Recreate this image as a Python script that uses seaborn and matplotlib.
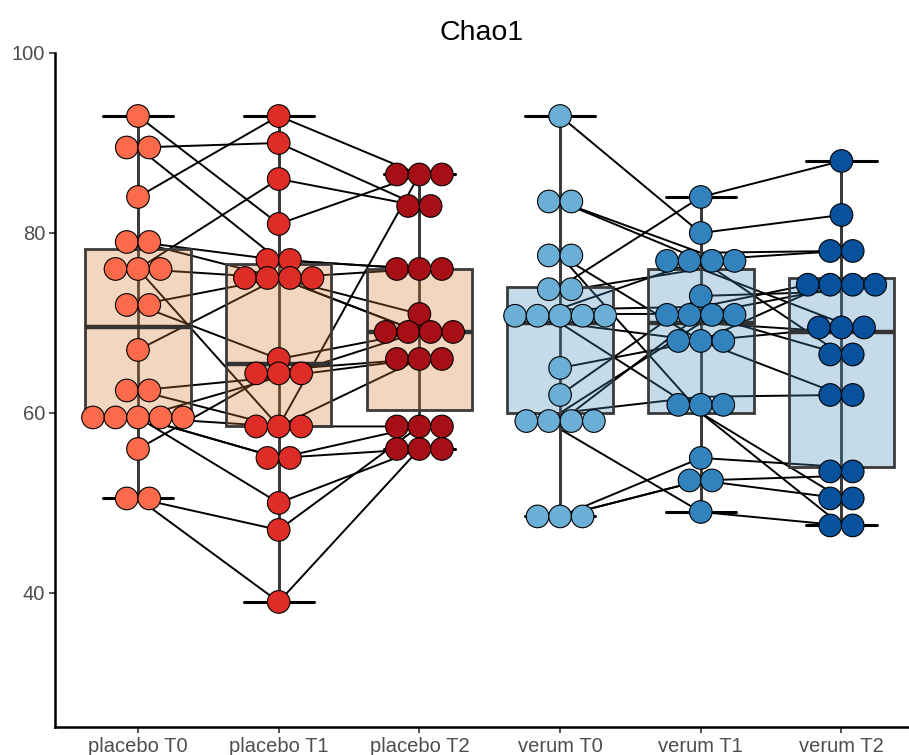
#!/usr/bin/env python3
import numpy as np
import pandas as pd
import seaborn as sns
import matplotlib.pyplot as plt
from matplotlib.colors import to_rgba

groups = ['placebo T0', 'placebo T1', 'placebo T2', 'verum T0', 'verum T1', 'verum T2']

# one value per subject, same subject order across the three timepoints
placebo_t0 = [93, 89.5, 89.5, 84, 79, 79, 76, 76, 76, 72, 72, 67, 62.5, 62.5,
              59.5, 59.5, 59.5, 59.5, 59.5, 56, 50.5, 50.5]
placebo_t1 = [81, 90, 77, 93, 75, 77, 86, 75, 58.5, 75, 66, 75, 64, 58.5,
              64, 58.5, 55, 55, 50, 64.8, 47, 39]
placebo_t2 = [86.5, 83, 76, 86.5, 71, 76, 83, 76, 86.5, 69, 69, 69, 69, 66,
              66, 58.5, 58.5, 56, 56, 66, 58.5, 56]

verum_t0 = [93, 83.5, 83.5, 77.5, 77.5, 74, 73.5, 71, 70, 71.6, 71.5, 70, 65, 62,
            60, 60, 59, 58.2, 48.5, 48.5, 48.5]
verum_t1 = [80, 77.8, 77, 68, 60, 84, 76, 71, 68, 77, 71.8, 60, 68, 73,
            61.8, 70, 71, 49, 55, 52.5, 52.5]
verum_t2 = [82, 78, 78, 75, 50.5, 88, 70, 74, 69.5, 66.5, 75, 47.5, 62, 73.5,
            62, 69, 66.5, 47.5, 54, 53, 50.5]

dot_colors = ['#FB6A4A', '#DE2D26', '#A50F15', '#6BAED6', '#3182BD', '#08519C']
box_colors = ['#DA7A2D', '#DA7A2D', '#DA7A2D', '#418AB9', '#418AB9', '#418AB9']


def dot_layout(values, bw=1.9, step=0.16):
    # dot-density style stacking: close values share a row, centred on the category
    values = np.asarray(values, dtype=float)
    order = np.argsort(values, kind='stable')
    xs = np.zeros(len(values))
    ys = np.zeros(len(values))
    i = 0
    while i < len(order):
        start = values[order[i]]
        j = i
        while j < len(order) and values[order[j]] - start < bw:
            j += 1
        members = order[i:j]
        center = (values[members].min() + values[members].max()) / 2
        n = len(members)
        for k, m in enumerate(members):
            xs[m] = (k - (n - 1) / 2) * step
            ys[m] = center
        i = j
    return xs, ys


rows = []
series = [('p', placebo_t0, placebo_t1, placebo_t2, 0), ('v', verum_t0, verum_t1, verum_t2, 3)]
for prefix, t0, t1, t2, base in series:
    for t, vals in enumerate([t0, t1, t2]):
        dx, dy = dot_layout(vals)
        for s, v in enumerate(vals):
            rows.append(dict(subject=f'{prefix}{s}', label=groups[base + t], pos=base + t,
                             value=v, xdot=base + t + dx[s], ydot=dy[s]))
df = pd.DataFrame(rows)

sns.set_theme(style='ticks')
plt.rcParams['font.family'] = ['Liberation Sans', 'DejaVu Sans']

fig = plt.figure(figsize=(9.09, 7.55), dpi=100)
ax = fig.add_axes([55 / 909, 28 / 755, 854 / 909, 674 / 755])

# subject trajectories, underneath the boxes
for _, sub in df.groupby('subject'):
    sub = sub.sort_values('pos')
    ax.plot(sub['pos'], sub['value'], color='black', lw=1.4, zorder=0.5)

# full errorbar line behind each box
for i, g in enumerate(groups):
    v = df.loc[df['label'] == g, 'value'].to_numpy()
    q1, q3 = np.percentile(v, [25, 75])
    iqr = q3 - q1
    lo = v[v >= q1 - 1.5 * iqr].min()
    hi = v[v <= q3 + 1.5 * iqr].max()
    ax.vlines(i, lo, hi, color='#333333', lw=2, zorder=0.8)

sns.boxplot(data=df, x='label', y='value', order=groups, hue='label', hue_order=groups,
            palette=dict(zip(groups, box_colors)), saturation=1, width=0.75,
            showfliers=False, linewidth=2, linecolor='#3a3a3a', legend=False,
            medianprops=dict(color='#333333', linewidth=3.2),
            capprops=dict(color='black', linewidth=2.2),
            capwidths=0.5, ax=ax)

for p in ax.patches:
    fc = p.get_facecolor()
    p.set_facecolor(to_rgba(fc[:3], 0.3))

sns.scatterplot(data=df, x='xdot', y='ydot', hue='label', hue_order=groups,
                palette=dict(zip(groups, dot_colors)), s=265, edgecolor='black',
                linewidth=0.8, alpha=1, legend=False, zorder=3, ax=ax)

ax.set_xlim(-0.59, 5.48)
ax.set_ylim(25.1, 100)
ax.set_xticks(range(len(groups)))
ax.set_xticklabels(groups)
ax.set_yticks([40, 60, 80, 100])
ax.set_xlabel('')
ax.set_ylabel('')
ax.tick_params(axis='both', labelsize=14.5, labelcolor='#4d4d4d', color='#333333',
               length=4, width=1.2, pad=3)
sns.despine(ax=ax)
for side in ['left', 'bottom']:
    ax.spines[side].set_linewidth(1.8)
    ax.spines[side].set_color('black')
ax.set_title('Chao1', fontsize=20.5, pad=9, color='black')

fig.savefig('out.png', dpi=100, facecolor='white')
